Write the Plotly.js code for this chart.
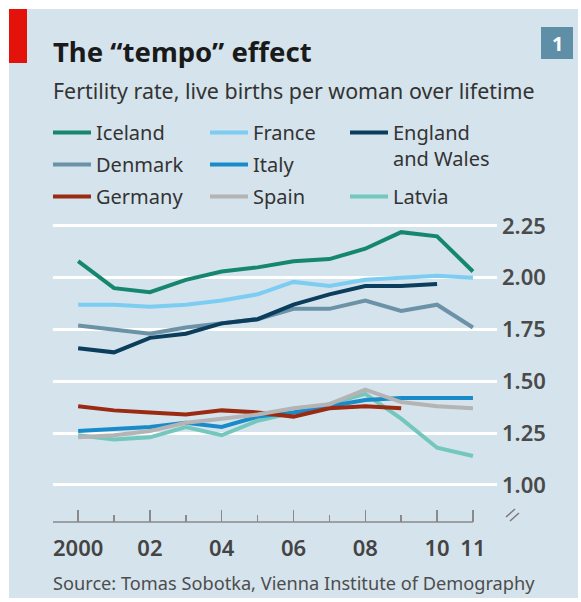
<!DOCTYPE html>
<html>
<head>
<meta charset="utf-8">
<script src="https://cdn.plot.ly/plotly-3.0.1.min.js"></script>
<style>
  html, body { margin: 0; padding: 0; background: #ffffff; }
  #chart { position: absolute; left: 9px; top: 9px; width: 569px; height: 589px; }
</style>
</head>
<body>
<div id="chart"></div>
<script>
// ---- data ----
const years = [2000, 2001, 2002, 2003, 2004, 2005, 2006, 2007, 2008, 2009, 2010, 2011];
const yearsEngland = [2000, 2001, 2002, 2003, 2004, 2005, 2006, 2007, 2008, 2009, 2010];
const yearsGermany = [2000, 2001, 2002, 2003, 2004, 2005, 2006, 2007, 2008, 2009];

const iceland = [2.08, 1.95, 1.93, 1.99, 2.03, 2.05, 2.08, 2.09, 2.14, 2.22, 2.20, 2.03];
const france  = [1.87, 1.87, 1.86, 1.87, 1.89, 1.92, 1.98, 1.96, 1.99, 2.00, 2.01, 2.00];
const england = [1.66, 1.64, 1.71, 1.73, 1.78, 1.80, 1.87, 1.92, 1.96, 1.96, 1.97];
const denmark = [1.77, 1.75, 1.73, 1.76, 1.78, 1.80, 1.85, 1.85, 1.89, 1.84, 1.87, 1.76];
const italy   = [1.26, 1.27, 1.28, 1.30, 1.28, 1.33, 1.35, 1.38, 1.41, 1.42, 1.42, 1.42];
const germany = [1.38, 1.36, 1.35, 1.34, 1.36, 1.35, 1.33, 1.37, 1.38, 1.37];
const spain   = [1.23, 1.24, 1.26, 1.30, 1.32, 1.34, 1.37, 1.39, 1.46, 1.40, 1.38, 1.37];
const latvia  = [1.24, 1.22, 1.23, 1.28, 1.24, 1.31, 1.35, 1.39, 1.44, 1.32, 1.18, 1.14];

const xTickVals = [2000, 2002, 2004, 2006, 2008, 2010, 2011];
const xTickText = ['2000', '02', '04', '06', '08', '10', '11'];
const yTickVals = [1.00, 1.25, 1.50, 1.75, 2.00, 2.25];
const yTickText = ['1.00', '1.25', '1.50', '1.75', '2.00', '2.25'];

// ---- styling ----
const FONT = 'Noto Sans, DejaVu Sans, sans-serif';
const BG = '#d5e3ec';
const LW = 4;
const xRange = [1999.30, 2011.67];
const yRange = [0.8214, 2.298];

function line(name, x, y, color, legend, rank) {
  return {
    type: 'scatter', mode: 'lines', name: name, x: x, y: y,
    line: { color: color, width: LW },
    legend: legend, legendrank: rank, legendgroup: 'g_' + name, hoverinfo: 'skip'
  };
}

const traces = [
  line('Latvia', years, latvia, '#74c7bd', 'legend3', 2),
  line('Italy', years, italy, '#1a8bc9', 'legend2', 2),
  line('Germany', yearsGermany, germany, '#9a2b12', 'legend', 3),
  line('Spain', years, spain, '#b4b4b4', 'legend2', 3),
  line('Denmark', years, denmark, '#6b92a6', 'legend', 2),
  line('England<br>and Wales', yearsEngland, england, '#0b3d5c', 'legend3', 1),
  line('France', years, france, '#7dcdf2', 'legend2', 1),
  line('Iceland', years, iceland, '#16876f', 'legend', 1)
];

// image-pixel -> paper helpers for decorations (plot area: x 53..497, y 216..522 in the image)
const PX0 = 53, PW = 444, PYB = 522, PH = 306;
const px = X => (X - PX0) / PW;
const py = Y => (PYB - Y) / PH;

const legendFont = { family: FONT, size: 20, color: '#333333' };
const legendCommon = {
  font: legendFont, bgcolor: 'rgba(0,0,0,0)', borderwidth: 0,
  orientation: 'v', xanchor: 'left', yanchor: 'top', y: py(113),
  itemwidth: 38, itemclick: false, itemdoubleclick: false,
  traceorder: 'grouped', tracegroupgap: 3
};

const layout = {
  width: 569, height: 589,
  margin: { l: 44, r: 81, t: 207, b: 76 },
  paper_bgcolor: BG, plot_bgcolor: BG,
  font: { family: FONT, color: '#333333' },
  showlegend: true,
  legend: Object.assign({}, legendCommon, { x: px(48) }),
  legend2: Object.assign({}, legendCommon, { x: px(205) }),
  legend3: Object.assign({}, legendCommon, { x: px(345), valign: 'top', tracegroupgap: 9 }),
  xaxis: {
    range: xRange, showgrid: false, zeroline: false, showline: false,
    tickmode: 'array', tickvals: xTickVals, ticktext: xTickText,
    ticks: 'inside', ticklen: 12, tickwidth: 1.5, tickcolor: '#8a8a8a',
    ticklabelstandoff: 11,
    tickfont: { family: FONT, size: 22, color: '#444444', weight: 600 },
    minor: { dtick: 1, tick0: 2000, ticks: 'inside', ticklen: 7, tickwidth: 1.5, tickcolor: '#8a8a8a', showgrid: false },
    fixedrange: true
  },
  yaxis: {
    range: yRange, side: 'right', zeroline: false, showline: false,
    tickmode: 'array', tickvals: yTickVals, ticktext: yTickText,
    ticks: '', showgrid: true, gridcolor: '#ffffff', gridwidth: 3,
    ticklabelstandoff: 4,
    tickfont: { family: FONT, size: 22, color: '#4a4a4a', weight: 600 },
    fixedrange: true
  },
  shapes: [
    // x axis baseline up to the last year
    { type: 'line', xref: 'x', yref: 'paper', x0: xRange[0], x1: years[years.length - 1], y0: 0, y1: 0,
      line: { color: '#8a8a8a', width: 1.5 } },
    // red bar
    { type: 'rect', xref: 'paper', yref: 'paper', x0: px(9), x1: px(27), y0: py(63), y1: py(9),
      fillcolor: '#e3120b', line: { width: 0 } },
    // chart number box
    { type: 'rect', xref: 'paper', yref: 'paper', x0: px(541), x1: px(573), y0: py(59), y1: py(27),
      fillcolor: '#5e8fa6', line: { width: 0 } },
    // axis break marks
    { type: 'line', xref: 'paper', yref: 'paper', x0: px(506), y0: py(517), x1: px(515), y1: py(509),
      line: { color: '#7a7a7a', width: 1.5 } },
    { type: 'line', xref: 'paper', yref: 'paper', x0: px(510), y0: py(521), x1: px(519), y1: py(513),
      line: { color: '#7a7a7a', width: 1.5 } }
  ],
  annotations: [
    { text: '<b>The \u201ctempo\u201d effect</b>', xref: 'paper', yref: 'paper', x: px(51), y: py(52),
      xanchor: 'left', yanchor: 'middle', showarrow: false,
      font: { family: FONT, size: 27.5, color: '#1a1a1a' } },
    { text: 'Fertility rate, live births per woman over lifetime', xref: 'paper', yref: 'paper',
      x: px(51), y: py(91), xanchor: 'left', yanchor: 'middle', showarrow: false,
      font: { family: FONT, size: 21.4, color: '#333333' } },
    { text: 'Source: Tomas Sobotka, Vienna Institute of Demography', xref: 'paper', yref: 'paper',
      x: px(51), y: py(583), xanchor: 'left', yanchor: 'middle', showarrow: false,
      font: { family: FONT, size: 18.2, color: '#4d4d4d' } },
    { text: '<b>1</b>', xref: 'paper', yref: 'paper', x: px(557), y: py(43),
      xanchor: 'center', yanchor: 'middle', showarrow: false,
      font: { family: FONT, size: 20, color: '#ffffff' } }
  ]
};

Plotly.newPlot('chart', traces, layout, { displayModeBar: false, staticPlot: true });
</script>
</body>
</html>
